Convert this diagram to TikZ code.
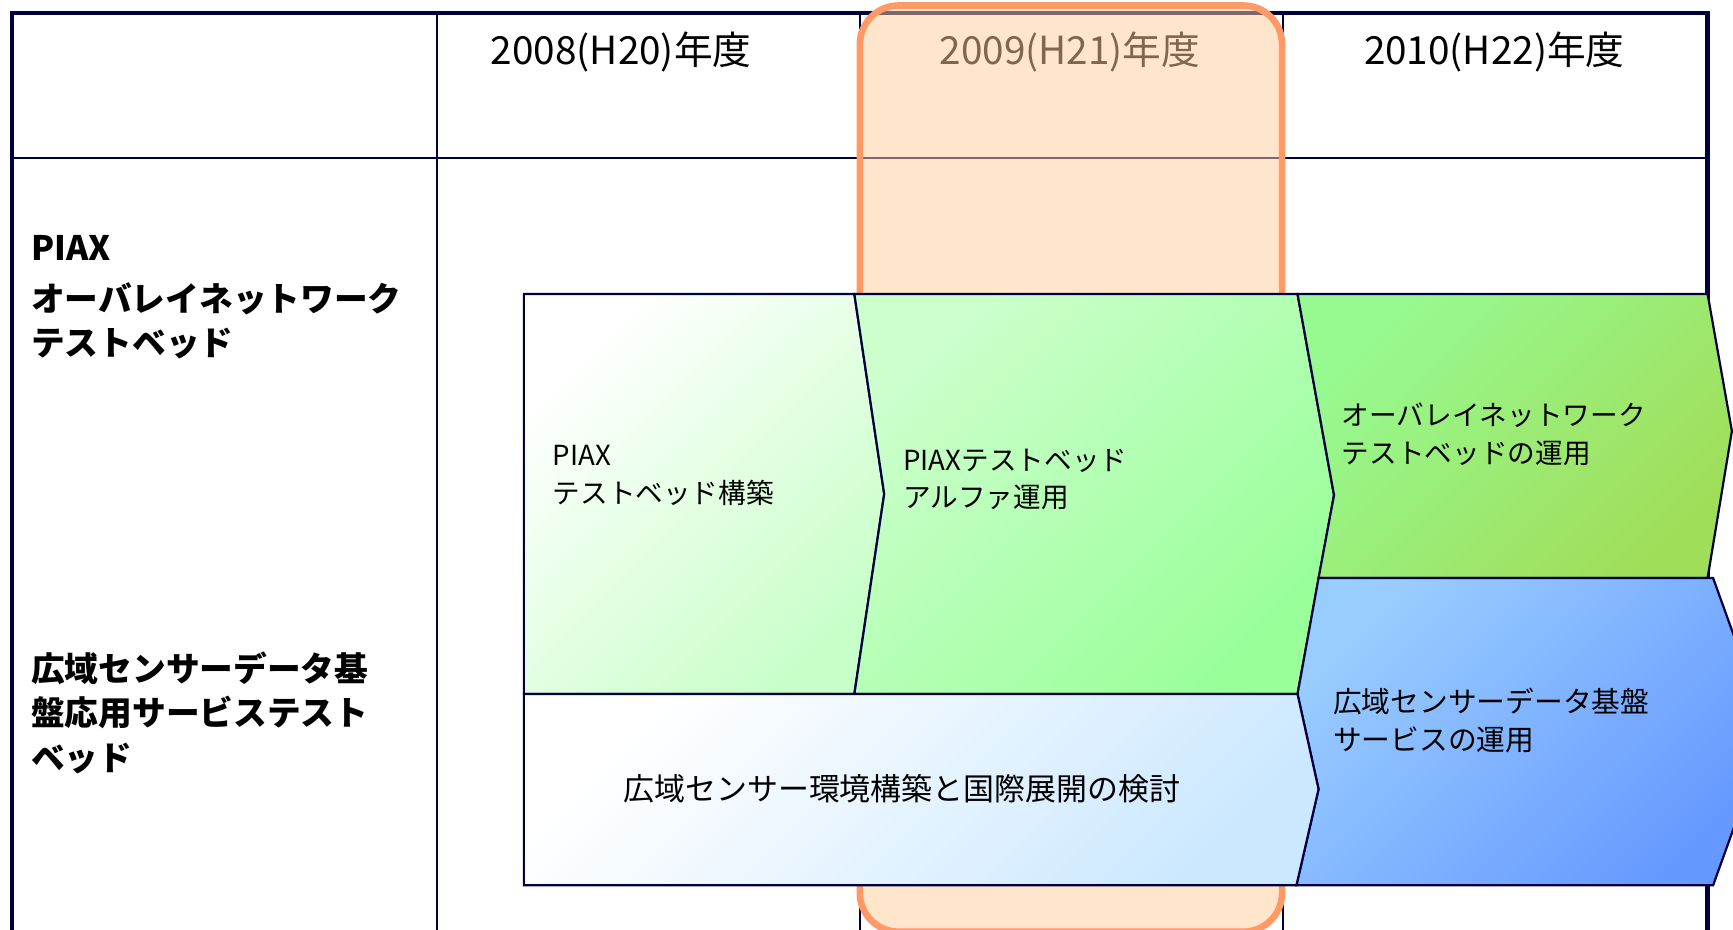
\documentclass[tikz,border=0pt]{standalone}
\usepackage{fontspec}
\setmainfont{Noto Sans CJK JP}
\definecolor{navy}{RGB}{0,0,64}
\definecolor{orng}{RGB}{255,153,102}
\definecolor{peach}{RGB}{255,204,153}
\definecolor{gA}{RGB}{200,255,200}
\definecolor{gB1}{RGB}{204,255,204}
\definecolor{gB2}{RGB}{153,255,153}
\definecolor{gC1}{RGB}{150,250,145}
\definecolor{gC2}{RGB}{160,222,90}
\definecolor{bD1}{RGB}{153,204,255}
\definecolor{bD2}{RGB}{102,153,255}
\definecolor{bE}{RGB}{204,232,255}
\begin{document}
\begin{tikzpicture}[x=1pt,y=-1pt,
  frame/.style={draw=navy, line width=4pt},
  gridline/.style={draw=navy, line width=1.8pt},
  chev/.style={draw=navy, line width=2pt, line join=miter},
  hdr/.style={font=\fontsize{35}{40}\selectfont, inner sep=0},
  lbl/.style={font=\fontsize{30.5}{40}\selectfont\bfseries, align=left, anchor=west, inner sep=0},
  ctext/.style={font=\fontsize{25}{34}\selectfont, align=left, anchor=west, inner sep=0},
]
\useasboundingbox (0,0) rectangle (1568,841);
\fill[white] (0,0) rectangle (1568,841);
% table
\draw[gridline] (11,143) -- (1545,143);
\draw[gridline] (395,12) -- (395,860);
\draw[gridline] (778,12) -- (778,860);
\draw[gridline] (1161,12) -- (1161,860);
\draw[frame] (11,860) -- (11,12) -- (1545,12) -- (1545,860);
% headers
\node[hdr] (h1) at (562,47) {2008(H20)年度};
\node[hdr] (h2) at (968,47) {2009(H21)年度};
\node[hdr] (h3) at (1352,47) {2010(H22)年度};
% highlight column
\draw[draw=orng, line width=6pt, fill=peach, fill opacity=0.5, rounded corners=35pt] (778,5) rectangle (1160,843);
% chevrons
\draw[chev, top color=white, bottom color=gA, shading angle=45]
  (474,266) -- (773,266) -- (800,447) -- (773,628) -- (474,628) -- cycle;
\draw[chev, top color=gB1, bottom color=gB2, shading angle=45]
  (773,266) -- (1174,266) -- (1207,448) -- (1174,628) -- (773,628) -- (800,447) -- cycle;
\draw[chev, top color=gC1, bottom color=gC2, shading angle=45]
  (1174,266) -- (1545,266) -- (1567,390) -- (1545,523) -- (1193,523) -- (1207,448) -- cycle;
\draw[chev, top color=bD1, bottom color=bD2, shading angle=45]
  (1193,523) -- (1550,523) -- (1600,662) -- (1550,801) -- (1173,801) -- (1193,714) -- (1174,628) -- cycle;
\draw[chev, top color=white, bottom color=bE, shading angle=45]
  (474,628) -- (1174,628) -- (1193,714) -- (1173,801) -- (474,801) -- cycle;
% chevron texts
\node[ctext] (c1) at (500,430) {PIAX\\テストベッド構築};
\node[ctext] (c2) at (817,434) {PIAXテストベッド\\アルファ運用};
\node[ctext] (c3) at (1214,393) {オーバレイネットワーク\\テストベッドの運用};
\node[ctext, font=\fontsize{26}{34}\selectfont] (c4) at (1206,652) {広域センサーデータ基盤\\サービスの運用};
\node[inner sep=0, font=\fontsize{28}{34}\selectfont] (c5) at (816,714) {広域センサー環境構築と国際展開の検討};
% row labels
\node[lbl] (l1) at (28,269) {PIAX\\[6pt]オーバレイネットワーク\\テストベッド};
\node[lbl] (l2) at (28,645) {広域センサーデータ基\\盤応用サービステスト\\ベッド};
\end{tikzpicture}
\end{document}
